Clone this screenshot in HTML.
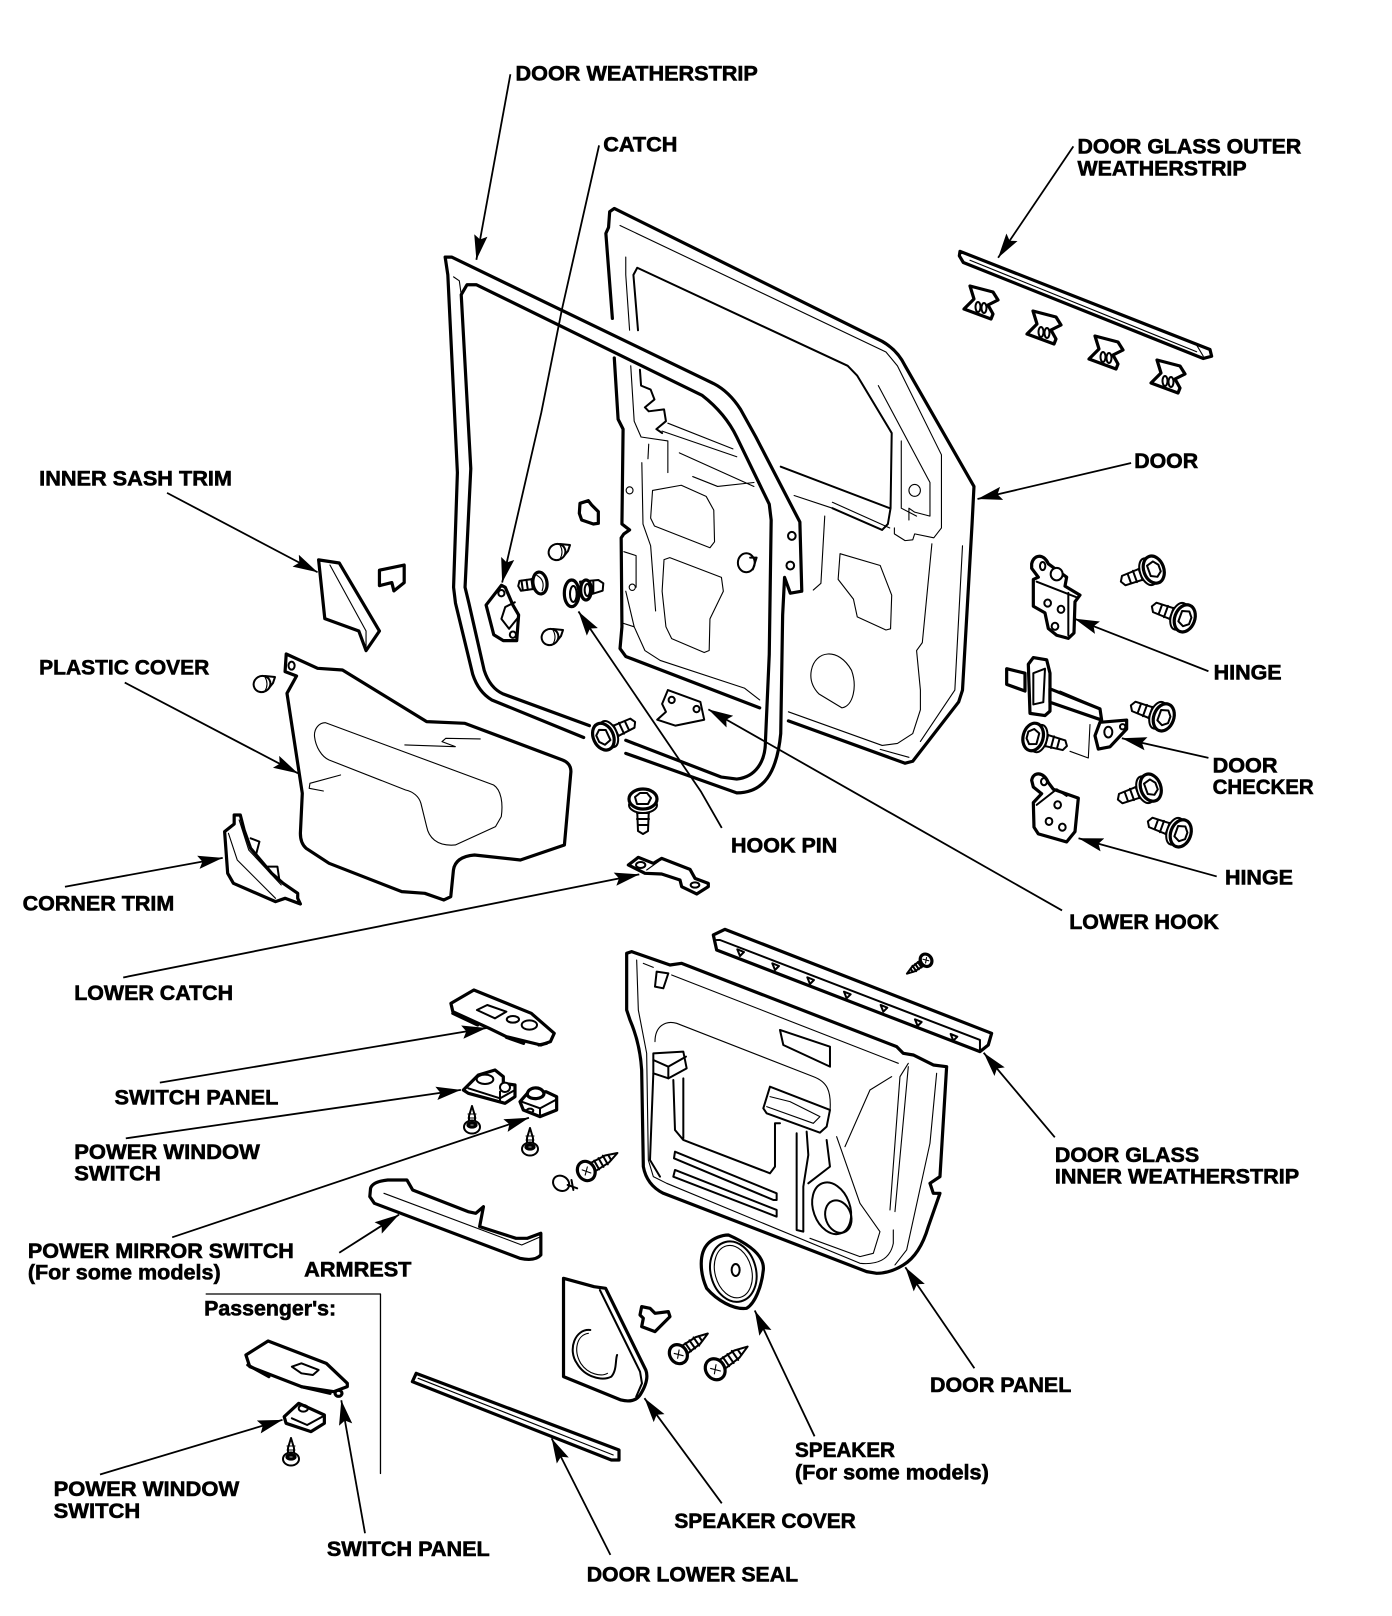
<!DOCTYPE html>
<html><head><meta charset="utf-8"><style>
html,body{margin:0;padding:0;background:#fff}
svg{display:block}
svg *{vector-effect:non-scaling-stroke}
path,ellipse,circle{fill:none;stroke:#000;stroke-linejoin:round;stroke-linecap:round}
.t{stroke-width:3.2}.m{stroke-width:2}.n{stroke-width:1.1}
.w{fill:#fff}
.l{stroke-width:1.8;marker-end:url(#a);stroke-linecap:butt}
text{font-family:"Liberation Sans",sans-serif;font-weight:700;font-size:21px;fill:#000;stroke:#000;stroke-width:.6px}
</style></head><body>
<svg width="1392" height="1616" viewBox="0 0 1392 1616" xmlns="http://www.w3.org/2000/svg">
<defs>
<marker id="a" markerUnits="userSpaceOnUse" markerWidth="26" markerHeight="14" refX="24" refY="7" orient="auto"><polygon points="0,0.5 24,7 0,13.500 4,7" fill="#000"/></marker>
<g id="bolt"><path class="m w" d="M-3,-6 L-28,-5 L-31,0 L-28,5 L-3,6z"/><path class="m" d="M-10,-6V6M-16,-6V6M-22,-5V5"/><ellipse class="m w" cx="-2" cy="0" rx="8" ry="14"/><ellipse class="t w" cx="4" cy="0" rx="10" ry="14"/><path class="m w" d="M-1,-6 L6,-8 L10,-3 L10,4 L5,8 L-1,5z"/></g>
<g id="screw"><path class="m w" d="M0,-5 L-22,-4 L-34,0 L-22,4 L0,5z"/><path class="m" d="M-5,-5V5M-10,-5V5M-15,-5V5M-20,-5V5M-25,-3V3"/><ellipse class="t w" cx="2" cy="0" rx="8.500" ry="10"/><path class="n" d="M-1,-4L5,3M5,-3L-1,3"/></g>
<g id="fast"><path class="m w" d="M-3,-2 L-3,-10 L0,-20 L3,-10 L3,-2z"/><path class="n" d="M-4,-8H4M-4,-12H4"/><ellipse class="m w" cx="0" cy="1" rx="8" ry="6.500"/><ellipse class="t" cx="0" cy="-1" rx="4" ry="2"/></g>
<g id="clip"><path class="t w" d="M-10,-16 L13,-10 L18,-2 L8,3 L13,12 L11,17 L-16,7 L-6,-3z"/><ellipse class="m" cx="-2" cy="5" rx="2.500" ry="5"/><ellipse class="m" cx="4" cy="6" rx="2.500" ry="5"/></g>
<g id="grom"><path class="m w" d="M3,-8 L13,-7 L11,-1 L7,4"/><ellipse class="m w" cx="0" cy="0" rx="8.500" ry="8" transform="rotate(-30)"/><path class="n" d="M3,-7 Q7,0 3,7"/></g>
</defs>

<!-- ============ Z1 door & weatherstrip ============ -->
<g transform="translate(400,180) scale(.38265,.39541)">
<path class="t" d="M555,350 L538,135 L545,120 L548,80 L560,72 L1260,408 Q1300,430 1320,470 L1500,775 L1495,870 L1470,1290 L1460,1320 L1340,1470 L1320,1475 L1015,1368"/>
<path class="t" d="M560,450 L570,605 L583,630 L580,870 L600,885 L585,895 L578,905 L580,1130 L575,1185 L590,1205 L940,1335"/>
<path class="m" d="M622,380 L610,240 L620,222 L1170,470 L1195,495 L1285,640 L1282,830 L1275,870 L1260,885 L1130,830 M995,725 L1280,830"/>
<path class="n" d="M575,115 L1270,435 L1300,470 L1415,695 L1415,880 L1395,905 L1345,895 L1340,910 L1320,912 L1292,895 L1292,880 M590,195 L590,240 L600,380 M603,470 L612,610 L630,650 L700,660 L700,740 M700,615 L870,680 M685,635 L880,700 M730,690 L925,775 M765,750 L830,775 L925,765 M650,668 L648,705 M632,715 L635,870 L655,925 L668,1090 M585,940 L617,950 L617,1030 M590,1040 L612,1130 M580,1120 L612,1130 L640,1190 L680,1215 L900,1285 L940,1315 M1110,850 L1100,1020 L1080,1037 M1030,798 L1130,830 M1130,815 L1280,880 M1250,520 L1385,765 L1385,850 L1345,840 L1330,830 L1330,860 M1310,660 L1310,830 L1350,850 M1470,925 L1450,1290 L1360,1420 M1390,920 L1365,1170 L1350,1190 L1360,1290 L1360,1340 L1340,1400 L1300,1425 L1260,1430 L1015,1345 M1255,1440 L1330,1460"/>
<path class="m" d="M627,480 L630,520 L655,530 L665,555 L640,575 L650,585 L690,580 L695,610 L670,630 L685,640"/>
<path class="n" d="M660,785 L735,772 L800,800 L820,835 L822,915 L810,930 L665,875 L655,855z M690,960 L705,955 L840,1005 L845,1040 L810,1110 L808,1190 L795,1195 L710,1160 L695,1130 L685,1040z M1150,945 L1255,975 L1285,1050 L1282,1135 L1270,1138 L1195,1105 L1185,1060 L1145,1010z M1075,1240 C1085,1190 1145,1180 1180,1240 C1195,1280 1185,1330 1155,1335 L1095,1300 C1080,1285 1070,1265 1075,1240z"/>
<circle class="n" cx="600" cy="785" r="9"/><circle class="n" cx="607" cy="1030" r="8"/><circle class="n" cx="1345" cy="785" r="15"/>
<!-- band -->
<path d="M118,195 L135,195 L820,515 Q860,535 890,580 L930,650 L1045,865 L1050,1045 L1020,1045 L1005,1005 L1000,1100 L995,1400 C985,1500 950,1550 880,1550 L590,1450 L240,1315 Q205,1295 190,1250 L145,1070 L140,1030 L150,740 L125,240z M160,290 L185,730 L170,1030 L180,1070 L220,1240 Q235,1285 270,1300 L840,1510 L880,1515 C930,1510 955,1470 955,1420 L965,1200 L970,860 L965,820 L880,650 Q850,590 790,545 L200,265 L175,265z" fill-rule="evenodd" style="fill:#fff;stroke:none"/>
<path class="t" d="M480,1410 L240,1315 Q205,1295 190,1250 L145,1070 L140,1030 L150,740 L125,240 L118,195 L135,195 L820,515 Q860,535 890,580 L930,650 L1045,865 L1050,1040 L1020,1045 L1005,1005 L1000,1100 L995,1400 C985,1500 950,1550 880,1550 L590,1450"/>
<path class="t" d="M495,1380 L270,1300 Q235,1285 220,1240 L180,1070 L170,1030 L185,730 L160,290 L175,265 L200,265 L790,545 Q850,590 880,650 L965,820 L970,860 L965,1200 L955,1420 C955,1470 930,1510 880,1515 L840,1510 L590,1417"/>
<path class="n" d="M140,245 L155,255 L160,290"/>
<circle class="m" cx="1024" cy="900" r="10"/><circle class="m" cx="1020" cy="975" r="10"/>
<!-- small parts -->
<path class="t w" d="M265,1025 L225,1075 L245,1150 L270,1165 L305,1165 L310,1100 L295,1075 L275,1030z"/>
<path class="m" d="M300,1068 L275,1080 L265,1110 L285,1135 L310,1105"/><circle class="m" cx="265" cy="1045" r="8"/><circle class="m" cx="295" cy="1150" r="8"/>
<path class="m w" d="M700,1290 L785,1320 L795,1365 L720,1380 L672,1365 L695,1345 L685,1325z"/><circle class="m" cx="710" cy="1315" r="8"/><circle class="m" cx="775" cy="1338" r="8"/>
<ellipse class="m w" cx="905" cy="968" rx="22" ry="24"/><path class="m" d="M915,955 L932,955 L922,985"/>
</g>

<!-- fastener cluster (reference 3x crop at 520,500) -->
<g transform="translate(520,500) scale(.3333)">
<path class="t w" d="M180,10 L205,2 L215,15 L235,35 L235,70 L220,72 L185,60 L178,40z"/>
<path class="m w" d="M180,245 L235,240 L250,250 L248,272 L190,290z"/>
<path class="m" d="M205,245V285M220,242V278"/>
<ellipse class="t w" cx="155" cy="280" rx="22" ry="40"/><ellipse class="m" cx="160" cy="282" rx="10" ry="24"/>
<ellipse class="t w" cx="198" cy="270" rx="16" ry="30"/><ellipse class="m" cx="202" cy="270" rx="8" ry="18"/>
</g>
<g transform="translate(540,583) rotate(-8)">
<path class="m w" d="M-3,-5 L-20,-5 L-22,0 L-20,5 L-3,5z"/><path class="m" d="M-8,-5V5M-13,-5V5M-18,-5V5"/><ellipse class="t w" cx="0" cy="0" rx="7" ry="11"/><path class="n" d="M-2,-8 Q6,-2 1,8"/>
</g>
<use href="#grom" transform="translate(557,552)"/>
<use href="#grom" transform="translate(550,637)"/>
<use href="#grom" transform="translate(262,684)"/>
<use href="#bolt" transform="translate(607,735) rotate(155)"/>
<use href="#bolt" transform="translate(643,803) rotate(-90)"/>

<!-- ============ upper right ============ -->
<g transform="translate(950,200) scale(.3333,.4464)">
<path class="t w" d="M30,115 L780,335 L785,350 L760,355 L40,140 L28,125z"/><path class="n" d="M60,135 L740,340 M740,325 L760,350"/>
<!-- hinge 1 -->
<path class="t w" d="M245,815 C250,795 280,790 295,815 L350,845 L345,865 L390,885 L375,900 L372,970 L355,982 L320,975 L295,960 L285,925 L250,910 L250,850 L265,845 L245,825z"/>
<path class="m" d="M260,855 L380,890 M355,880 L355,975"/><ellipse class="m" cx="278" cy="820" rx="8" ry="9"/><ellipse class="m w" cx="320" cy="838" rx="18" ry="14"/>
<ellipse class="m" cx="293" cy="903" rx="10" ry="8"/><ellipse class="m" cx="333" cy="917" rx="10" ry="8"/><ellipse class="m" cx="315" cy="955" rx="10" ry="8"/>
<!-- checker -->
<path class="t w" d="M170,1050 L170,1085 L225,1100 L225,1060z"/>
<path class="t w" d="M235,1040 L250,1025 L290,1030 L300,1060 L300,1145 L285,1155 L240,1150z"/>
<path class="m" d="M250,1060 L285,1050 L280,1125 L250,1130z"/>
<path class="t w" d="M300,1095 L450,1140 L455,1165 L300,1125z"/>
<path class="n" d="M330,1100 L440,1135 M420,1175 L415,1250 L360,1235"/>
<path class="t w" d="M450,1170 L530,1165 L530,1185 L480,1225 L445,1230 L435,1200z"/><circle class="m" cx="475" cy="1192" r="12"/><ellipse class="m" cx="518" cy="1180" rx="8" ry="6"/>
<!-- hinge 2 -->
<path class="t w" d="M245,1300 C250,1280 280,1280 295,1305 L310,1320 L385,1340 L375,1415 L350,1438 L265,1420 L252,1405 L250,1350 L275,1330 L250,1315z"/>
<path class="m" d="M260,1355 L320,1320 L350,1335"/><ellipse class="m" cx="282" cy="1303" rx="9" ry="8"/>
<ellipse class="m" cx="323" cy="1355" rx="10" ry="8"/><ellipse class="m" cx="297" cy="1392" rx="10" ry="8"/><ellipse class="m" cx="337" cy="1405" rx="10" ry="8"/>
</g>
<use href="#clip" transform="translate(980,302)"/><use href="#clip" transform="translate(1043,327)"/><use href="#clip" transform="translate(1105,352)"/><use href="#clip" transform="translate(1167,376)"/>
<use href="#bolt" transform="translate(1150,571) rotate(-20)"/>
<use href="#bolt" transform="translate(1181,617) rotate(20)"/>
<use href="#bolt" transform="translate(1160,716) rotate(20)"/>
<use href="#bolt" transform="translate(1037,738) rotate(195)"/>
<use href="#bolt" transform="translate(1147,789) rotate(-20)"/>
<use href="#bolt" transform="translate(1177,832) rotate(20)"/>

<!-- ============ plastic cover, corner trim ============ -->
<g transform="translate(0,600) scale(.38265,.3333)">
<path class="t w" d="M748,162 L830,205 L895,210 L1115,365 L1215,370 L1470,480 Q1492,490 1492,515 L1475,735 L1360,780 L1240,765 Q1190,770 1185,810 L1178,890 L1160,900 L1110,880 L1050,875 L860,790 L800,745 Q785,730 785,700 L790,580 L750,280 L775,228 L745,215z"/>
<ellipse class="m" cx="762" cy="197" rx="8" ry="12"/>
<path class="n" d="M850,368 L1290,555 C1310,570 1315,610 1310,650 L1295,680 L1190,735 C1140,740 1120,710 1115,680 L1100,610 C1095,590 1080,575 1060,570 L860,480 C840,470 825,440 822,410 C820,385 835,368 850,368z M1058,435 L1190,440 L1155,425 L1165,415 L1255,417 M890,525 L810,550 L808,565 L845,573"/>
<path class="t w" d="M612,645 L628,645 L638,690 L655,745 L710,820 L740,850 L778,880 L778,895 L785,912 L745,895 L720,905 L610,850 L595,820 L587,695 L612,672z"/>
<path class="n" d="M597,700 L620,780 L720,895 M625,660 L650,750 L735,855"/>
<path class="m" d="M655,715 L678,725 L670,760 M700,800 L725,800 L730,840"/>
</g>
<g transform="scale(1.0311)">
<path class="t w" d="M309,543 L329,546 L368,612 L355,631 L348,612 L315,600z"/><path class="n" d="M320,548 L355,612 L355,631"/>
<path class="t w" d="M368,553 L392,548 L392,565 L382,573 L380,565 L368,568z"/>
</g>

<!-- ============ door panel ============ -->
<g transform="translate(600,910) scale(.3333)">
<path class="t w" d="M340,75 L375,58 L1175,370 L1165,405 L1140,425 L350,120z"/>
<path class="m" d="M360,90 L1140,390 L1140,425 M350,90 L360,90"/>
<path class="m" d="M412,118 L432,126 L420,138z M517,160 L537,168 L525,180z M622,202 L642,210 L630,222z M732,245 L752,253 L740,265z M842,285 L862,293 L850,305z M945,328 L965,336 L953,348z M1052,372 L1072,380 L1060,392z"/>
<path class="t w" d="M80,130 L95,125 L210,165 L245,160 L890,410 L910,430 L940,435 L1000,465 L1040,470 L1020,800 L990,820 L1000,850 L1020,850 L985,950 Q960,1035 910,1065 Q870,1090 830,1090 L800,1085 L190,850 Q140,825 130,770 L125,480 Q120,400 90,330 L80,300z"/>
<path class="n" d="M110,150 L115,300 L140,430 L145,750 L160,800 L200,820 L780,1060 C830,1065 870,1050 880,1000 L880,960 M130,160 L160,172"/>
<path class="n" d="M215,195 L895,460 M165,395 C165,350 195,330 230,340 L640,500 C680,515 695,540 690,605 M710,680 L780,880 L840,965 L820,1030 L780,1040 L630,985 M735,710 L810,540 L875,500 M925,460 L900,500 L870,900 M925,470 L885,905 M1010,490 L990,700 L920,1020 L885,1065"/>
<path class="m" d="M170,185 L205,190 L190,235 L165,230z M540,360 L550,405 L690,470 L690,410z"/>
<path class="m w" d="M160,430 L250,425 L260,475 L205,505 L160,490z"/><path class="m" d="M160,450 L205,470 L258,440 M205,470 L205,505"/>
<path class="m" d="M220,510 L225,660 L250,690 L510,790 L525,770 L525,640 L540,640 M250,505 L250,685 M160,490 L150,750 L180,800"/>
<path class="m" d="M225,725 L530,850 L530,870 L520,870 L222,745z M225,780 L530,900 L530,920 L220,800z"/>
<path class="m w" d="M510,530 L690,600 L680,650 L660,668 L500,610 L490,595z"/><path class="n" d="M510,560 L570,575 L660,620 L640,640 L500,590"/>
<path class="m" d="M590,670 L590,960 L610,965 L610,830 L625,735 L620,665 M680,690 L690,770 L625,820"/>
<ellipse class="m" cx="695" cy="895" rx="55" ry="80" transform="rotate(-20 695 895)"/><ellipse class="m" cx="715" cy="920" rx="38" ry="50" transform="rotate(-20 715 920)"/>
<!-- speaker -->
<path class="t w" d="M385,975 C430,995 495,1030 490,1080 C485,1130 465,1180 440,1195 C400,1200 350,1170 320,1135 C300,1090 295,1030 325,1000 C340,985 365,975 385,975z"/>
<ellipse class="m" cx="400" cy="1085" rx="68" ry="92" transform="rotate(-15 400 1085)"/><ellipse class="n" cx="400" cy="1085" rx="55" ry="80" transform="rotate(-15 400 1085)"/><ellipse class="m" cx="407" cy="1080" rx="12" ry="18"/>
<path class="t w" d="M125,1190 L150,1195 L165,1210 L205,1205 L210,1220 L165,1265 L125,1250 L130,1225 L120,1215z"/>
</g>
<use href="#screw" transform="translate(925,961) rotate(-35) scale(.65)"/>
<use href="#screw" transform="translate(588,1170) rotate(150)"/>
<use href="#screw" transform="translate(680,1353) rotate(145)"/>
<use href="#screw" transform="translate(717,1368) rotate(145) scale(1.1)"/>

<!-- ============ switches, armrest ============ -->
<g transform="translate(30,980) scale(.38265,.3333)">
<path class="t w" d="M1100,70 L1160,30 L1310,100 L1370,160 L1360,185 L1335,195 L1245,170 L1200,145 L1105,95z"/>
<path class="t" d="M1105,100 L1170,135 M1245,172 L1290,190 M1330,195 L1350,190"/>
<path class="m" d="M1168,90 L1195,75 L1245,95 L1215,115z"/><ellipse class="m" cx="1262" cy="118" rx="16" ry="10"/><ellipse class="m" cx="1305" cy="135" rx="20" ry="14"/>
<path class="t w" d="M890,625 Q895,605 935,600 L985,600 L1000,630 L1145,695 L1165,700 L1185,680 L1175,740 L1270,775 L1300,775 L1335,760 L1335,825 Q1320,845 1280,835 L900,670 L888,650z"/>
<path class="n" d="M925,640 L1285,795 L1335,770"/>
<ellipse class="m w" cx="1388" cy="610" rx="20" ry="24" transform="rotate(-30 1388 610)"/><path class="m" d="M1405,615 L1430,625 M1415,600 L1420,630"/>
</g>
<!-- power window + mirror switch (reference 3x crop at 440,1060) -->
<g transform="translate(440,1060) scale(.3333)">
<path class="t w" d="M70,90 L115,45 L165,30 L190,50 L190,70 L225,75 L225,110 L195,130 L85,100z"/>
<ellipse class="m w" cx="135" cy="58" rx="25" ry="14"/><ellipse class="m w" cx="195" cy="82" rx="15" ry="14"/>
<path class="m" d="M85,85 L180,115 L225,90 M180,95 L180,125"/>
<path class="t w" d="M240,125 L262,100 L318,95 L350,110 L350,150 L300,170 L250,150z"/>
<path class="t w" d="M262,105 C260,80 305,75 312,100 C312,118 270,122 262,105z"/>
<path class="m" d="M245,125 L300,145 L350,118 M300,145 L300,170"/>
<ellipse class="m" cx="270" cy="152" rx="10" ry="6"/>
</g>
<use href="#fast" transform="translate(472,1126)"/>
<use href="#fast" transform="translate(530,1148)"/>

<!-- ============ lower ============ -->
<g transform="translate(200,1260) scale(.38265,.3333)">
<path class="t w" d="M120,285 L178,243 L330,310 L385,370 L385,380 L350,395 L265,380 L130,320z"/>
<path class="t" d="M125,315 L180,350 M265,380 L340,400"/><circle class="t" cx="362" cy="400" r="9"/>
<path class="m" d="M240,320 L265,310 L310,330 L295,345 L265,340z"/>
<path class="t w" d="M220,470 L258,430 L325,465 L325,490 L290,515 L225,490z"/><ellipse class="m" cx="270" cy="445" rx="12" ry="10"/><path class="m" d="M240,475 L280,495 L320,470"/>
<path class="t w" d="M565,340 L1095,570 L1095,600 L1075,600 L555,365z"/><path class="n" d="M570,355 L1080,585"/>
<path class="t w" d="M950,55 L1030,80 L1060,85 L1165,330 Q1175,360 1150,405 Q1135,430 1100,420 L950,350z"/>
<path class="m" d="M1045,90 L1150,335 L1155,370 L1140,410 M1020,210 C980,205 960,270 985,310 C1005,350 1050,365 1075,350 C1090,330 1085,300 1090,285"/>
<path class="n" d="M1015,220 C985,225 975,270 995,310 C1015,345 1050,350 1065,340"/>
</g>
<use href="#fast" transform="translate(291,1458)"/>

<!-- lower catch bracket (reference 3x crop at 600,770) -->
<g transform="translate(600,770) scale(.3333)">
<path class="t w" d="M85,285 L115,262 L160,280 L185,265 L270,298 L285,325 L325,340 L325,350 L290,372 L245,350 L240,330 L185,312 L135,310z"/>
<ellipse class="m" cx="122" cy="285" rx="14" ry="9"/><ellipse class="m" cx="285" cy="345" rx="13" ry="8"/>
<path class="n" d="M140,300 L175,275"/>
</g>

<!-- ============ leaders & labels ============ -->
<g transform="scale(1.0311)">
<path class="n" d="M200,1255 L369,1255 L369,1429" style="stroke-width:1.3"/>
<path class="l" d="M495,72 L462,252"/>
<path class="l" d="M581,141 L545,300 L525,400 L487,565"/>
<path class="l" d="M1041,142 L968,250"/>
<path class="l" d="M1097,449 L948,484"/>
<path class="l" d="M162,478 L308,555"/>
<path class="l" d="M121,662 L289,750"/>
<path class="l" d="M63,860 L216,832"/>
<path class="l" d="M119.500,948 L620,848"/>
<path class="l" d="M700,803 L680,768 L561,593"/>
<path class="l" d="M1030,883 L687,688"/>
<path class="l" d="M1172,651 L1042,600"/>
<path class="l" d="M1172,735 L1088,716"/>
<path class="l" d="M1180,850 L1046,813"/>
<path class="l" d="M155,1050 L472,997"/>
<path class="l" d="M122,1104 L447,1057"/>
<path class="l" d="M167,1200 L513,1084"/>
<path class="l" d="M329,1215 L387,1178"/>
<path class="l" d="M1023,1103 L954,1021"/>
<path class="l" d="M945,1327 L878,1229"/>
<path class="l" d="M790,1393 L732,1271"/>
<path class="l" d="M700,1458 L625,1356"/>
<path class="l" d="M592,1508 L535,1395"/>
<path class="l" d="M354,1487 L331,1358"/>
<path class="l" d="M97,1430 L274,1377"/>

<g transform="translate(-1,-2)">
<text x="501" y="80" textLength="235" lengthAdjust="spacingAndGlyphs">DOOR WEATHERSTRIP</text>
<text x="586" y="149" textLength="72" lengthAdjust="spacingAndGlyphs">CATCH</text>
<text x="1046" y="151" textLength="217" lengthAdjust="spacingAndGlyphs">DOOR GLASS OUTER</text>
<text x="1046" y="172" textLength="164" lengthAdjust="spacingAndGlyphs">WEATHERSTRIP</text>
<text x="1101" y="456" textLength="62" lengthAdjust="spacingAndGlyphs">DOOR</text>
<text x="39" y="473" textLength="187" lengthAdjust="spacingAndGlyphs">INNER SASH TRIM</text>
<text x="1178" y="661" textLength="66" lengthAdjust="spacingAndGlyphs">HINGE</text>
<text x="39" y="656" textLength="165" lengthAdjust="spacingAndGlyphs">PLASTIC COVER</text>
<text x="1177" y="751" textLength="63" lengthAdjust="spacingAndGlyphs">DOOR</text>
<text x="1177" y="772" textLength="98" lengthAdjust="spacingAndGlyphs">CHECKER</text>
<text x="710" y="829" textLength="103" lengthAdjust="spacingAndGlyphs">HOOK PIN</text>
<text x="1189" y="860" textLength="66" lengthAdjust="spacingAndGlyphs">HINGE</text>
<text x="23" y="885" textLength="147" lengthAdjust="spacingAndGlyphs">CORNER TRIM</text>
<text x="1038" y="903" textLength="145" lengthAdjust="spacingAndGlyphs">LOWER HOOK</text>
<text x="73" y="972" textLength="154" lengthAdjust="spacingAndGlyphs">LOWER CATCH</text>
<text x="112" y="1073" textLength="159" lengthAdjust="spacingAndGlyphs">SWITCH PANEL</text>
<text x="73" y="1126" textLength="180" lengthAdjust="spacingAndGlyphs">POWER WINDOW</text>
<text x="73" y="1147" textLength="84" lengthAdjust="spacingAndGlyphs">SWITCH</text>
<text x="1024" y="1129" textLength="140" lengthAdjust="spacingAndGlyphs">DOOR GLASS</text>
<text x="1024" y="1150" textLength="237" lengthAdjust="spacingAndGlyphs">INNER WEATHERSTRIP</text>
<text x="28" y="1222" textLength="258" lengthAdjust="spacingAndGlyphs">POWER MIRROR SWITCH</text>
<text x="28" y="1243" textLength="187" lengthAdjust="spacingAndGlyphs">(For some models)</text>
<text x="296" y="1240" textLength="104" lengthAdjust="spacingAndGlyphs">ARMREST</text>
<text x="199" y="1278" textLength="128" lengthAdjust="spacingAndGlyphs">Passenger's:</text>
<text x="903" y="1352" textLength="137" lengthAdjust="spacingAndGlyphs">DOOR PANEL</text>
<text x="772" y="1415" textLength="97" lengthAdjust="spacingAndGlyphs">SPEAKER</text>
<text x="772" y="1437" textLength="188" lengthAdjust="spacingAndGlyphs">(For some models)</text>
<text x="53" y="1453" textLength="180" lengthAdjust="spacingAndGlyphs">POWER WINDOW</text>
<text x="53" y="1474" textLength="84" lengthAdjust="spacingAndGlyphs">SWITCH</text>
<text x="318" y="1511" textLength="158" lengthAdjust="spacingAndGlyphs">SWITCH PANEL</text>
<text x="655" y="1484" textLength="176" lengthAdjust="spacingAndGlyphs">SPEAKER COVER</text>
<text x="570" y="1536" textLength="205" lengthAdjust="spacingAndGlyphs">DOOR LOWER SEAL</text>
</g>
</g>
</svg>
</body></html>
